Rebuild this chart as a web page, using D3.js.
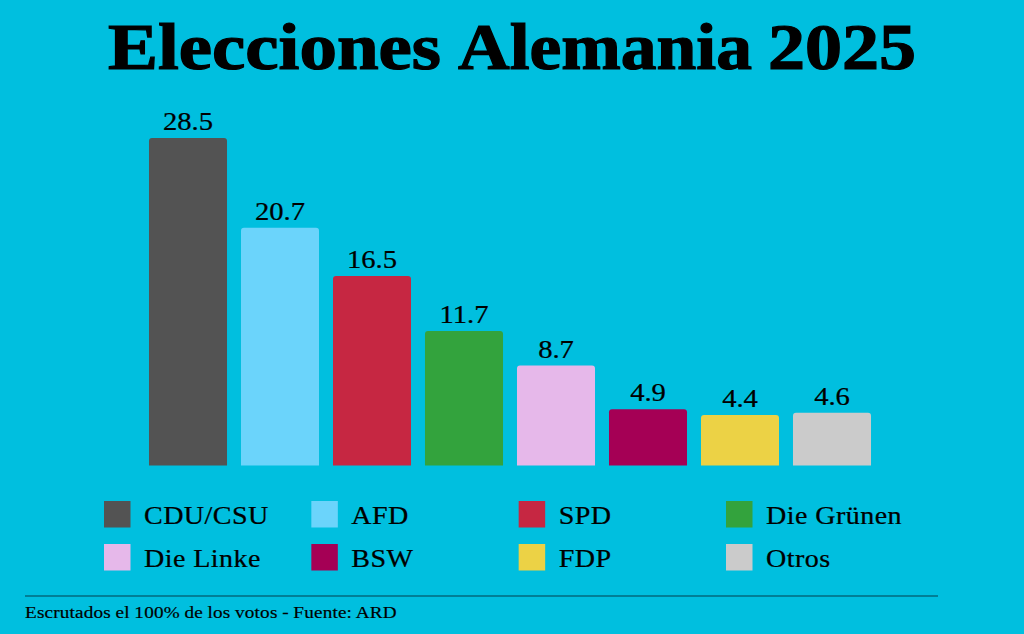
<!DOCTYPE html>
<html lang="es"><head><meta charset="utf-8">
<script src="https://cdn.jsdelivr.net/npm/d3@7"></script>
<style>html,body{margin:0;padding:0;background:#00bfdf}svg{display:block}text{font-family:"Liberation Serif",serif;fill:#000}</style>
</head><body><svg id="c" width="1024" height="634"></svg>
<script>
const parties = ["CDU/CSU","AFD","SPD","Die Grünen","Die Linke","BSW","FDP","Otros"];
const votes = [28.5,20.7,16.5,11.7,8.7,4.9,4.4,4.6];
const colors = ["#535353","#6bd4fb","#c62742","#33a33d","#e6b8ea","#a50055","#ecd245","#cbcbcb"];
const titleWords = ["Elecciones","Alemania","2025"];
const noteText = "Escrutados el 100% de los votos - Fuente: ARD";

const svg = d3.select("#c");
const x = d3.scaleBand().domain(parties).range([142,878]).paddingInner(0.152).paddingOuter(0.076);
const y = d3.scaleLinear().domain([0,28.5]).range([465.5,138]);

const titleLayout = [[108,333],[458,294],[768,148]];
svg.append("g").selectAll("text").data(titleWords).join("text")
  .attr("x",(d,i)=>titleLayout[i][0]).attr("y",68.5)
  .attr("font-size",65).attr("font-weight",700).attr("stroke","#000").attr("stroke-width",1.2)
  .attr("textLength",(d,i)=>titleLayout[i][1]).attr("lengthAdjust","spacingAndGlyphs").text(d=>d);

function barPath(d,i){
  const p=d3.path(), x0=x(parties[i]), x1=x0+x.bandwidth(), y0=y(0), t=y(d), r=3;
  p.moveTo(x0,y0); p.lineTo(x0,t+r); p.quadraticCurveTo(x0,t,x0+r,t);
  p.lineTo(x1-r,t); p.quadraticCurveTo(x1,t,x1,t+r); p.lineTo(x1,y0); p.closePath();
  return p.toString();
}
svg.append("g").selectAll("path").data(votes).join("path").attr("d",barPath).attr("fill",(d,i)=>colors[i]);
svg.append("g").selectAll("text").data(votes).join("text")
  .attr("transform",(d,i)=>`translate(${x(parties[i])+x.bandwidth()/2},${y(d)-8}) scale(1.1,1)`)
  .attr("text-anchor","middle").attr("font-size",26).attr("stroke","#000").attr("stroke-width",0.25).text(d=>d);

const col = d3.scalePoint().domain([0,1,2,3]).range([104,726]);
const row = d3.scalePoint().domain([0,1]).range([501,544]);
const lg = svg.append("g").selectAll("g").data(parties).join("g")
  .attr("transform",(d,i)=>`translate(${col(i%4)},${row(Math.floor(i/4))})`);
lg.append("rect").attr("width",26.5).attr("height",26.5).attr("fill",(d,i)=>colors[i]);
lg.append("text").attr("transform","translate(40,23) scale(1.1,1)")
  .attr("font-size",25.5).attr("letter-spacing",0.4).attr("stroke","#000").attr("stroke-width",0.25).text(d=>d);

svg.append("line").attr("x1",25).attr("x2",938).attr("y1",596).attr("y2",596).attr("stroke","#03414f").attr("stroke-width",1.2);
svg.append("text").attr("transform","translate(25,618) scale(1.13,1)")
  .attr("font-size",17).attr("letter-spacing",0.15).attr("word-spacing",-0.3).attr("stroke","#000").attr("stroke-width",0.2).text(noteText);
</script></body></html>
